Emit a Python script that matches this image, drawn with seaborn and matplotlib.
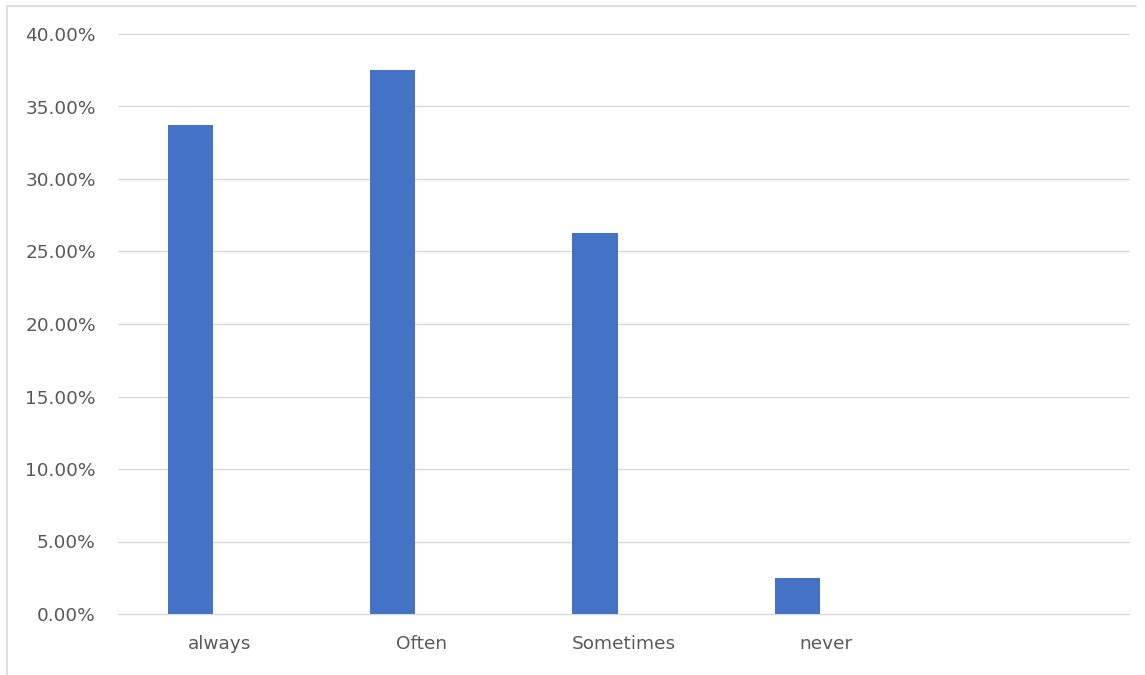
import matplotlib
matplotlib.use("Agg")
import matplotlib.pyplot as plt
from matplotlib.lines import Line2D
from matplotlib.ticker import FuncFormatter, MultipleLocator
import seaborn as sns
import pandas as pd

# Survey answers and their share of respondents
categories = ["always", "Often", "Sometimes", "never"]
shares = [0.3375, 0.375, 0.2625, 0.025]
# Trailing blank slot on the category axis
axis_order = categories + [""]

sns.set_theme(style="white")
plt.rcParams["font.family"] = ["DejaVu Sans"]

df = pd.DataFrame({"answer": categories, "share": shares, "series": "share"})

W, H = 1145, 675
fig = plt.figure(figsize=(W / 100, H / 100), dpi=100)
ax = fig.add_axes([118 / W, 1 - 614 / H, (1129 - 118) / W, (614 - 34) / H])

sns.barplot(
    data=df, x="answer", y="share", hue="series",
    order=axis_order, hue_order=["share", "blank"],
    palette={"share": "#4472C4", "blank": "#ED7D31"},
    width=0.564, gap=0.21, dodge=True, legend=False,
    errorbar=None, saturation=1, linewidth=0, ax=ax,
)

ax.set_ylim(0, 0.40)
ax.set_xlim(-0.5, len(axis_order) - 0.5)
ax.yaxis.set_major_locator(MultipleLocator(0.05))
ax.yaxis.set_major_formatter(FuncFormatter(lambda v, _: f"{v * 100:.2f}%"))
ax.grid(axis="y", color="#D9D9D9", linewidth=1.0)
ax.set_axisbelow(True)
for gl in ax.get_ygridlines():
    gl.set_clip_on(False)
for side in ["top", "right", "left", "bottom"]:
    ax.spines[side].set_visible(False)
ax.set_xlabel("")
ax.set_ylabel("")
ax.tick_params(axis="y", length=0, pad=16, labelsize=13.3, labelcolor="#595959")
ax.tick_params(axis="x", length=0, pad=15, labelsize=13.3, labelcolor="#595959")

# Chart frame: thin grey border along the top and left edges
frame_x, frame_top, frame_right = 6.5 / W, 1 - 5.5 / H, 1136 / W
fig.lines.append(Line2D([frame_x, frame_x], [0, frame_top], transform=fig.transFigure,
                        color="#D9D9D9", linewidth=1.2))
fig.lines.append(Line2D([frame_x, frame_right], [frame_top, frame_top], transform=fig.transFigure,
                        color="#D9D9D9", linewidth=1.2))

fig.savefig("out.png", dpi=100)
